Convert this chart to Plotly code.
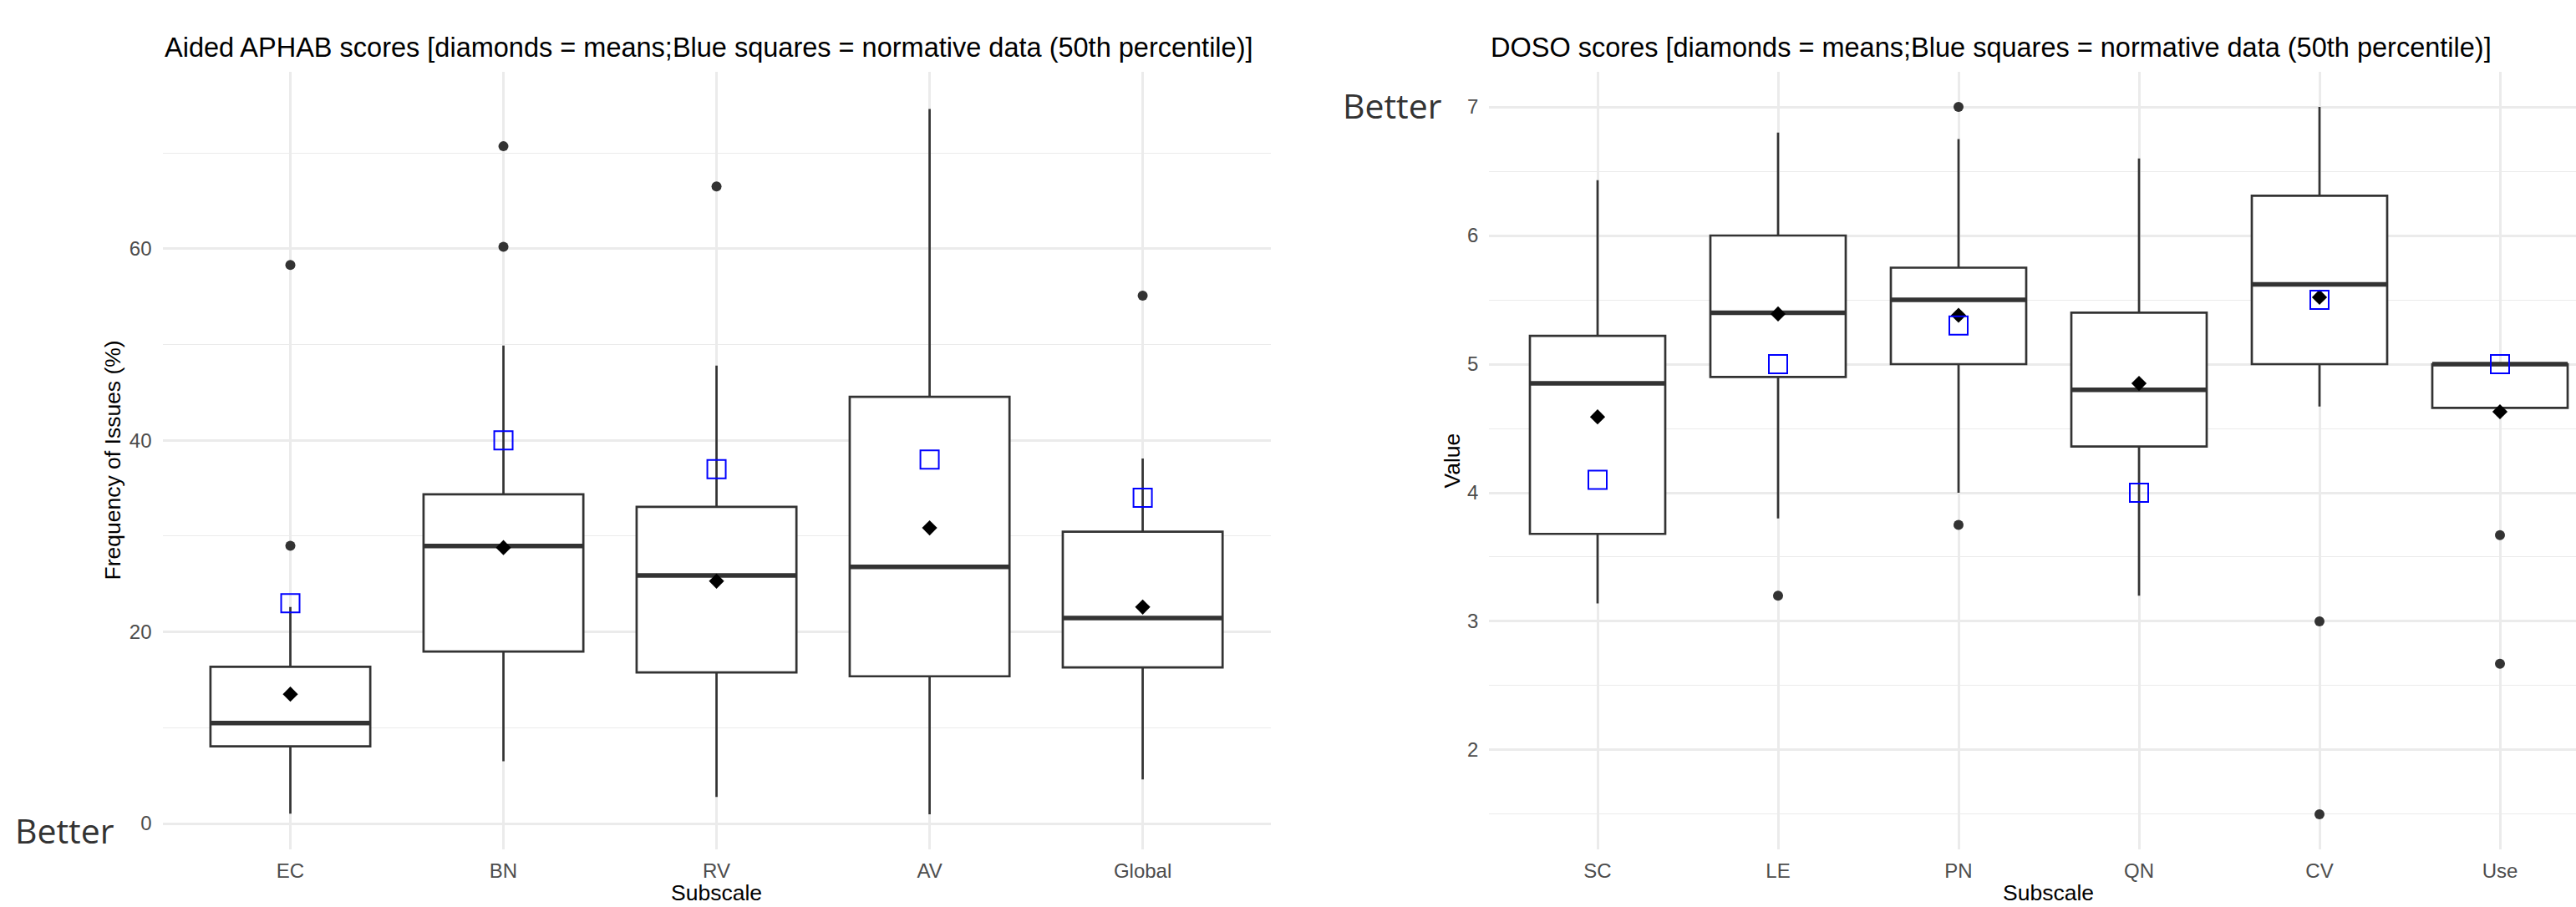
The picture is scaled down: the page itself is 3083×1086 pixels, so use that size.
import plotly.graph_objects as go

# ---- Aided APHAB subscale summary (percent of issues) ----
aphab_cats = ["EC", "BN", "RV", "AV", "Global"]
aphab_q1 = [8.06, 17.96, 15.78, 15.37, 16.3]
aphab_median = [10.48, 28.97, 25.9, 26.8, 21.46]
aphab_q3 = [16.36, 34.37, 33.06, 44.55, 30.46]
aphab_low = [1.02, 6.5, 2.77, 0.96, 4.6]
aphab_high = [22.6, 49.9, 47.8, 74.6, 38.1]
aphab_mean = [13.5, 28.8, 25.3, 30.86, 22.6]
aphab_norm = [23, 40, 37, 38, 34]
aphab_outliers = [[58.3, 29.0], [60.2, 70.7], [66.5], [], [55.1]]

# ---- DOSO subscale summary (scores) ----
doso_cats = ["SC", "LE", "PN", "QN", "CV", "Use"]
doso_q1 = [3.68, 4.90, 5.0, 4.36, 5.0, 4.66]
doso_median = [4.85, 5.40, 5.50, 4.80, 5.62, 5.0]
doso_q3 = [5.22, 6.0, 5.75, 5.40, 6.31, 5.0]
doso_low = [3.14, 3.80, 4.0, 3.2, 4.67, 4.66]
doso_high = [6.43, 6.80, 6.75, 6.60, 7.0, 5.0]
doso_mean = [4.59, 5.39, 5.38, 4.85, 5.52, 4.63]
doso_norm = [4.1, 5.0, 5.3, 4.0, 5.5, 5.0]
doso_outliers = [[], [3.2], [7.0, 3.75], [], [3.0, 1.5], [3.67, 2.67]]

W, H = 3083, 1086
BOX_W = 0.75
LINE = "#333333"
FONT = "Liberation Sans, Arial, sans-serif"
GRID = "#EBEBEB"


def fx(px):
    return px / W


def fy(py):
    return 1 - py / H


def add_panel(fig, cats, q1, med, q3, low, high, mean, norm, outliers, xa, ya):
    idx = list(range(len(cats)))
    fig.add_trace(go.Box(
        x=idx, q1=q1, median=med, q3=q3, lowerfence=low, upperfence=high,
        width=BOX_W, whiskerwidth=0, boxpoints=False,
        fillcolor="white", line=dict(color=LINE, width=2.7),
        xaxis=xa, yaxis=ya, showlegend=False, hoverinfo="skip",
    ))
    # heavier median bar, as in ggplot boxplots
    mx, my = [], []
    for i, m in zip(idx, med):
        mx += [i - BOX_W / 2, i + BOX_W / 2, None]
        my += [m, m, None]
    fig.add_trace(go.Scatter(
        x=mx, y=my, mode="lines", line=dict(color=LINE, width=5.5),
        xaxis=xa, yaxis=ya, showlegend=False, hoverinfo="skip",
    ))
    ox, oy = [], []
    for i, vals in zip(idx, outliers):
        for v in vals:
            ox.append(i)
            oy.append(v)
    fig.add_trace(go.Scatter(
        x=ox, y=oy, mode="markers",
        marker=dict(symbol="circle", size=12, color=LINE, line=dict(width=0)),
        xaxis=xa, yaxis=ya, showlegend=False, hoverinfo="skip",
    ))
    fig.add_trace(go.Scatter(
        x=idx, y=mean, mode="markers",
        marker=dict(symbol="diamond", size=14, color="black", line=dict(width=0)),
        xaxis=xa, yaxis=ya, showlegend=False, hoverinfo="skip",
    ))
    fig.add_trace(go.Scatter(
        x=idx, y=norm, mode="markers",
        marker=dict(symbol="square-open", size=22, color="#0000FF",
                    line=dict(color="#0000FF", width=2)),
        xaxis=xa, yaxis=ya, showlegend=False, hoverinfo="skip",
    ))


fig = go.Figure()
add_panel(fig, aphab_cats, aphab_q1, aphab_median, aphab_q3, aphab_low, aphab_high,
          aphab_mean, aphab_norm, aphab_outliers, "x", "y")
add_panel(fig, doso_cats, doso_q1, doso_median, doso_q3, doso_low, doso_high,
          doso_mean, doso_norm, doso_outliers, "x2", "y2")

tick_font = dict(family=FONT, size=24, color="#4D4D4D")
xcommon = dict(showgrid=True, gridcolor=GRID, gridwidth=2.7, zeroline=False,
               showline=False, ticks="", tickfont=tick_font, ticklabelstandoff=9)
ycommon = dict(showgrid=True, gridcolor=GRID, gridwidth=2.7, zeroline=False,
               showline=False, ticks="", tickfont=tick_font, ticklabelstandoff=12,
               domain=[fy(1017), fy(86)])

fig.update_layout(
    width=W, height=H,
    margin=dict(l=0, r=0, t=0, b=0),
    paper_bgcolor="white", plot_bgcolor="white",
    showlegend=False,
    xaxis=dict(xcommon, domain=[fx(194.5), fx(1520.6)], range=[-0.6, len(aphab_cats) - 0.4],
               tickmode="array", tickvals=list(range(len(aphab_cats))), ticktext=aphab_cats,
               anchor="y"),
    yaxis=dict(ycommon, range=[-2.7, 78.47], tick0=0, dtick=20, anchor="x",
               minor=dict(dtick=10, tick0=0, showgrid=True, gridcolor=GRID, gridwidth=1.4)),
    xaxis2=dict(xcommon, domain=[fx(1782.4), 1.0], range=[-0.6, (W - 1912) / 216],
                tickmode="array", tickvals=list(range(len(doso_cats))), ticktext=doso_cats,
                anchor="y2"),
    yaxis2=dict(ycommon, range=[1.227, 7.273], tick0=0, dtick=1, anchor="x2",
                minor=dict(dtick=0.5, tick0=0, showgrid=True, gridcolor=GRID, gridwidth=1.4)),
)

title_font = dict(family=FONT, size=32.5, color="black")
axis_title_font = dict(family=FONT, size=26.5, color="black")
better_font = dict(family="Open Sans, sans-serif", size=41, color="#333333")

ann = [
    dict(text="Aided APHAB scores [diamonds = means;Blue squares = normative data (50th percentile)]",
         x=fx(194.5), y=fy(56.5), xanchor="left", yanchor="middle", font=title_font),
    dict(text="DOSO scores [diamonds = means;Blue squares = normative data (50th percentile)]",
         x=fx(1782.4), y=fy(56.5), xanchor="left", yanchor="middle", font=title_font),
    dict(text="Subscale", x=fx(857.5), y=fy(1069), xanchor="center", yanchor="middle",
         font=axis_title_font, borderpad=0),
    dict(text="Subscale", x=fx(2451.5), y=fy(1069), xanchor="center", yanchor="middle",
         font=axis_title_font, borderpad=0),
    dict(text="Frequency of Issues (%)", x=fx(134), y=fy(551.5), xanchor="center",
         yanchor="middle", textangle=-90, font=axis_title_font),
    dict(text="Value", x=fx(1737), y=fy(551.5), xanchor="center", yanchor="middle",
         textangle=-90, font=axis_title_font),
    dict(text="Better", x=fx(77.5), y=fy(993.5), xanchor="center", yanchor="middle",
         font=better_font),
    dict(text="Better", x=fx(1666.5), y=fy(125.5), xanchor="center", yanchor="middle",
         font=better_font),
]
for a in ann:
    a.update(xref="paper", yref="paper", showarrow=False)
fig.update_layout(annotations=ann)

fig.write_html("out.html")
